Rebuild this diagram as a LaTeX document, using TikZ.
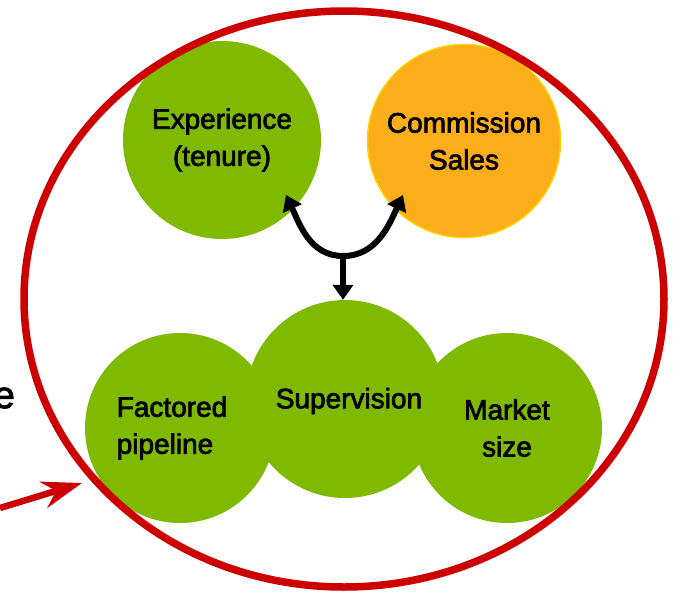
\documentclass[tikz,border=0pt]{standalone}
\usepackage{fontspec}
\setmainfont{Liberation Sans}[FakeBold=2.5]
\usepackage{tikz}
\usetikzlibrary{positioning, arrows.meta}
\definecolor{leafgreen}{RGB}{127,186,0}
\definecolor{amber}{RGB}{251,174,26}
\definecolor{amberrim}{RGB}{255,208,0}
\definecolor{scarlet}{RGB}{204,0,0}
\tikzset{
    x=1pt, y=-1pt, % one unit per pixel, y running downwards
    factor/.style={circle, fill=leafgreen, inner sep=0pt, align=center,
        font=\fontsize{28}{37}\selectfont}, % the green factor discs
    paid/.style={factor, fill=amber, draw=amberrim, line width=1.5pt}, % the orange disc
    caption/.style={inner sep=0pt, align=left, font=\fontsize{28}{37}\selectfont}, % loose text
    link/.style={line width=6pt, {Triangle[length=15pt,width=20pt]}-{Triangle[length=15pt,width=20pt]}}, % black double arrow
    feed/.style={line width=6pt, -{Triangle[length=15pt,width=20pt]}}, % black single arrow
    hoop/.style={draw=scarlet, line width=7.5pt}, % the red ring
    pointer/.style={draw=scarlet, line width=6.5pt, -{Stealth[length=40pt,width=27pt,inset=13pt]}}, % red pointer
}

\begin{document}
\begin{tikzpicture}
    \useasboundingbox (0,0) rectangle (673,592);
    \clip (0,0) rectangle (673,592);
    % upper pair
    \node[factor, minimum size=198pt] (exper) at (222,140) {Experience\\(tenure)};
    \node[paid, minimum size=193pt] (commis) at (464,141) {Commission\\Sales};
    % lower row, the middle one drawn last
    \node[factor, minimum size=190pt] (factored) at (180,428) {};
    \node[caption] (factoredtext) at (172,428) {Factored\\pipeline};
    \node[factor, minimum size=190pt] (market) at (507,428) {Market\\size};
    \node[factor, minimum size=198pt] (superv) at (345,399) {};
    \node[caption] (supervtext) at (349,401) {Supervision};
    % arrows between the groups
    \coordinate (tipL) at (286,195);
    \coordinate (tipR) at (403,195);
    \coordinate (join) at (343,256);
    \draw[link] (tipL) to[out=-65, in=180] (join) to[out=0, in=-115] (tipR);
    \draw[feed] (join) -- (superv.north -| join);
    % red ring and pointer
    \draw[hoop] (344,299) ellipse [x radius=320, y radius=288];
    \coordinate (tail) at (0,508);
    \coordinate (head) at (82,483);
    \draw[pointer] (tail) -- (head);
    \node[anchor=east, font=\fontsize{38}{44}\selectfont, inner sep=0pt] (lead) at (15,398) {e};
\end{tikzpicture}
\end{document}
